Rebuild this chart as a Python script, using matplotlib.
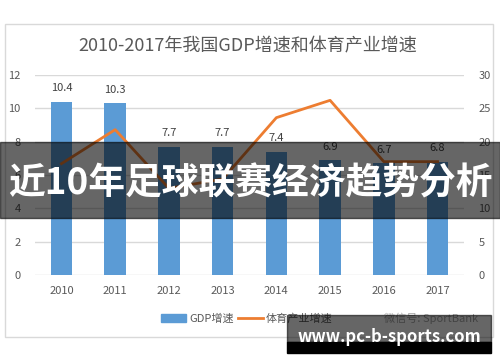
import matplotlib
matplotlib.use("Agg")
import matplotlib.pyplot as plt
from matplotlib.patches import Rectangle, Patch
from matplotlib.lines import Line2D

plt.rcParams['font.family'] = ['Noto Sans CJK SC', 'DejaVu Sans']

# datos
years = ['2010', '2011', '2012', '2013', '2014', '2015', '2016', '2017']
gdp = [10.4, 10.3, 7.7, 7.7, 7.4, 6.9, 6.7, 6.8]
sport = [16.7, 21.8, 13.0, 14.4, 23.6, 26.2, 17.0, 17.0]

W, H = 500, 362
fig = plt.figure(figsize=(5, 3.62), dpi=100)

def fx(px):
    return px / W

def fy(py):
    return 1 - py / H

# marco del grafico
fig.patches.append(Rectangle((fx(4.5), fy(336.5)), fx(488.5), 313 / H,
                             transform=fig.transFigure, fill=False,
                             edgecolor='#d9d9d9', lw=1))

ax = fig.add_axes([fx(34.6), fy(275), 429.8 / W, 200 / H])
x = range(len(years))
bars = ax.bar(x, gdp, width=0.4, color='#5b9bd5', zorder=2)
for xi, v in zip(x, gdp):
    ax.annotate(f"{v}", (xi, v), xytext=(0, 6), textcoords='offset points',
                ha='center', va='bottom', fontsize=8, color='#404040')

ax.set_xlim(-0.5, len(years) - 0.5)
ax.set_ylim(0, 12)
ax.set_yticks(range(0, 13, 2))
ax.set_xticks(list(x))
ax.set_xticklabels(years)
ax.grid(axis='y', color='#d9d9d9', lw=1)
ax.set_axisbelow(True)
for s in ax.spines.values():
    s.set_visible(False)
ax.tick_params(length=0, labelsize=8, colors='#595959', pad=8)
ax.tick_params(axis='y', pad=10)

ax2 = ax.twinx()
ax2.plot(list(x), sport, color='#ed7d31', lw=2, zorder=3)
ax2.set_ylim(0, 30)
ax2.set_yticks(range(0, 31, 5))
for s in ax2.spines.values():
    s.set_visible(False)
ax2.tick_params(length=0, labelsize=8, colors='#595959', pad=10)

fig.text(fx(248), fy(46), '2010-2017年我国GDP增速和体育产业增速',
         ha='center', va='center', fontsize=13, color='#595959')

handles = [Patch(color='#5b9bd5'), Line2D([], [], color='#ed7d31', lw=2)]
fig.legend(handles, ['GDP增速', '体育产业增速'], loc='center',
           bbox_to_anchor=(fx(247), fy(319)), ncol=2, frameon=False,
           fontsize=8, labelcolor='#595959', handlelength=2.2,
           handletextpad=0.3, columnspacing=0.4)
fig.text(fx(384), fy(318), '微信号: SportBank', ha='left', va='center',
         fontsize=8, color='#a6a6a6')

# banda superpuesta
fig.patches.append(Rectangle((0, fy(218)), 1, 76 / H, transform=fig.transFigure,
                             color='black', alpha=0.6, zorder=10))
fig.text(0.5, fy(184), '近10年足球联赛经济趋势分析', ha='center', va='center',
         fontsize=26.5, fontweight='bold', color='white', zorder=11)

fig.patches.append(Rectangle((fx(287), fy(342)), fx(204), 27 / H,
                             transform=fig.transFigure, color='black',
                             alpha=0.6, zorder=10))
fig.patches.append(Rectangle((fx(287), fy(352.5)), fx(204), 10.5 / H,
                             transform=fig.transFigure, color='black', zorder=10))
fig.text(fx(389), fy(336.5), 'www.pc-b-sports.com', ha='center', va='center',
         fontsize=12, fontweight='bold', color='white', zorder=11)

fig.savefig('out.png', dpi=100)
